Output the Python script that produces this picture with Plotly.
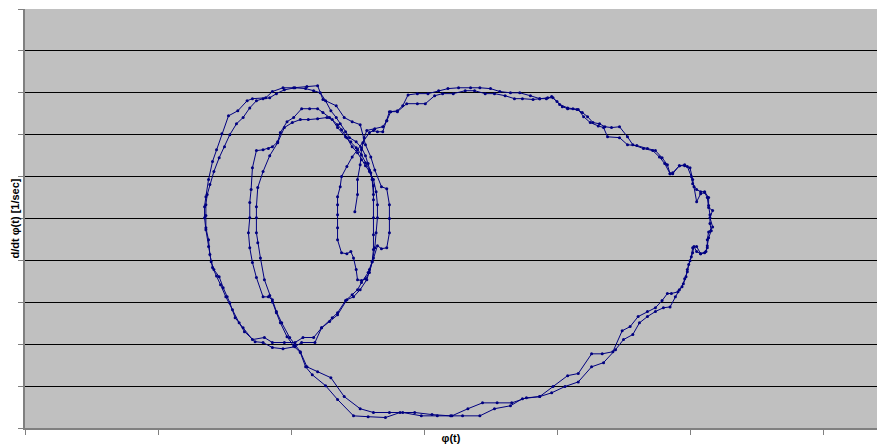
import plotly.graph_objects as go

# ---- data: phase trajectory, phi(t) and d/dt phi(t), in path order ----
phi_start = [2.48, 2.50, 2.50, 2.52, 2.53, 2.55, 2.57, 2.63, 2.69, 2.72, 2.75, 2.80, 2.84, 2.88]
dphi_start = [0.16, 0.57, 0.93, 1.28, 1.64, 1.93, 2.10, 2.14, 2.19, 2.33, 2.55, 2.57, 2.69, 2.95]

phi_big1 = [2.95, 3.03, 3.11, 3.18, 3.26, 3.35, 3.42, 3.50, 3.57, 3.65, 3.72, 3.80, 3.87, 3.92, 3.96,
            4.00, 4.04, 4.08, 4.15, 4.19, 4.23, 4.27, 4.32, 4.36, 4.41, 4.47, 4.53, 4.57, 4.65, 4.72,
            4.77, 4.81, 4.85, 4.87, 4.92, 4.96, 5.00, 5.02, 5.03, 5.05, 5.08, 5.11, 5.13, 5.14, 5.17,
            5.15, 5.17, 5.14, 5.13, 5.13, 5.11, 5.08, 5.05, 5.02, 5.01, 4.99, 4.98, 4.96, 4.94, 4.91,
            4.86, 4.83, 4.79, 4.74, 4.68, 4.61, 4.55, 4.49, 4.42, 4.34, 4.26, 4.16, 4.08, 3.97, 3.87,
            3.77, 3.66, 3.55, 3.44, 3.33, 3.21, 3.10, 2.98, 2.84, 2.74, 2.62, 2.52, 2.40, 2.30, 2.20,
            2.12, 2.07, 2.03]
dphi_big1 = [2.98, 2.98, 3.05, 3.10, 3.12, 3.12, 3.12, 3.10, 3.03, 3.00, 3.00, 2.93, 2.86, 2.86, 2.91,
             2.79, 2.67, 2.62, 2.60, 2.53, 2.43, 2.29, 2.26, 2.19, 2.17, 2.19, 1.95, 1.76, 1.67, 1.62,
             1.47, 1.31, 1.07, 1.09, 1.26, 1.26, 1.21, 0.93, 0.76, 0.40, 0.59, 0.62, 0.50, 0.26, 0.19,
             0.02, -0.20, -0.32, -0.51, -0.70, -0.82, -0.84, -0.67, -0.70, -0.91, -1.10, -1.27, -1.44, -1.63, -1.75,
             -1.79, -1.79, -1.96, -2.13, -2.22, -2.34, -2.58, -2.68, -3.18, -3.23, -3.23, -3.70, -3.75, -4.01, -4.25,
             -4.28, -4.40, -4.40, -4.40, -4.54, -4.71, -4.71, -4.71, -4.63, -4.63, -4.63, -4.54, -4.25, -3.80, -3.66,
             -3.54, -3.18, -3.01]

phi_mid_a = [1.99, 1.93, 1.89, 1.86, 1.83, 1.79, 1.74, 1.71, 1.69, 1.68, 1.69, 1.69, 1.70, 1.71, 1.74,
             1.79, 1.83, 1.86, 1.90, 1.92, 1.97, 2.02, 2.08, 2.14, 2.20, 2.24, 2.29, 2.35, 2.38, 2.42,
             2.46, 2.50, 2.53, 2.56, 2.59, 2.62, 2.64, 2.65, 2.65, 2.64, 2.63, 2.61]
dphi_mid_a = [-2.84, -2.49, -2.22, -1.94, -1.87, -1.87, -1.41, -1.05, -0.70, -0.34, 0.02, 0.38, 0.69, 1.21, 1.62,
              1.64, 1.67, 1.71, 1.83, 2.05, 2.31, 2.41, 2.62, 2.62, 2.62, 2.53, 2.41, 2.24, 2.12, 1.93,
              1.71, 1.57, 1.40, 1.26, 1.12, 0.93, 0.64, 0.33, 0.02, -0.34, -0.70, -1.03]

phi_low_a = [2.58, 2.53, 2.50, 2.46, 2.41, 2.35, 2.31, 2.23, 2.17, 2.09, 2.03, 1.95, 1.86, 1.80, 1.71,
             1.64, 1.58, 1.54, 1.52, 1.49, 1.46, 1.42, 1.40, 1.38, 1.36, 1.35]
dphi_low_a = [-1.29, -1.53, -1.70, -1.82, -1.96, -2.25, -2.37, -2.61, -2.84, -2.84, -2.96, -2.96, -2.96, -2.84, -2.89,
              -2.61, -2.37, -2.01, -1.87, -1.65, -1.39, -1.22, -1.03, -0.67, -0.27, 0.02]

phi_out_a = [1.35, 1.36, 1.38, 1.41, 1.44, 1.48, 1.53, 1.60, 1.67, 1.71, 1.81, 1.86, 1.94, 2.02, 2.12,
             2.20, 2.24, 2.34, 2.40, 2.46, 2.52, 2.56, 2.60, 2.63, 2.68, 2.72, 2.74, 2.74, 2.74, 2.72,
             2.68, 2.65]
dphi_out_a = [0.28, 0.52, 0.93, 1.36, 1.64, 2.02, 2.45, 2.57, 2.81, 2.86, 2.88, 3.03, 3.12, 3.12, 3.15,
              3.17, 2.84, 2.69, 2.41, 2.31, 2.24, 1.76, 1.47, 1.16, 0.76, 0.71, 0.33, 0.00, -0.34, -0.70,
              -0.72, -0.65]

phi_low_b = [2.62, 2.59, 2.57, 2.52, 2.47, 2.42, 2.35, 2.29, 2.23, 2.18, 2.08, 2.03, 1.94, 1.86, 1.79,
             1.73, 1.65, 1.61, 1.56, 1.51, 1.47, 1.44, 1.41, 1.39, 1.38, 1.36, 1.36]
dphi_low_b = [-0.94, -1.22, -1.46, -1.70, -1.87, -1.94, -2.30, -2.46, -2.61, -2.96, -2.96, -3.06, -3.11, -3.08, -2.96,
              -2.94, -2.70, -2.49, -2.18, -1.87, -1.58, -1.37, -1.17, -0.86, -0.51, -0.22, 0.07]

phi_out_b = [1.36, 1.37, 1.39, 1.42, 1.46, 1.50, 1.54, 1.59, 1.64, 1.69, 1.74, 1.79, 1.84, 1.89, 1.95,
             2.03, 2.11, 2.17, 2.22, 2.26, 2.30, 2.34, 2.37, 2.41, 2.44, 2.49, 2.53, 2.56, 2.58, 2.60,
             2.62, 2.62, 2.62, 2.62, 2.62, 2.61, 2.59, 2.56]
dphi_out_b = [0.33, 0.57, 0.81, 1.12, 1.45, 1.71, 2.00, 2.26, 2.41, 2.64, 2.81, 2.86, 2.88, 2.98, 3.07,
              3.12, 3.10, 3.05, 3.00, 2.81, 2.57, 2.41, 2.26, 2.07, 1.93, 1.83, 1.69, 1.50, 1.31, 1.09,
              0.78, 0.45, 0.02, -0.39, -0.74, -1.03, -1.29, -1.44]

phi_inner = [2.53, 2.50, 2.49, 2.47, 2.45, 2.42, 2.38, 2.35, 2.35, 2.35, 2.35, 2.35, 2.37, 2.38, 2.42,
             2.46, 2.50, 2.54, 2.59, 2.62, 2.65, 2.69, 2.72, 2.74, 2.80]
dphi_inner = [-1.48, -1.46, -1.22, -0.94, -0.79, -0.84, -0.82, -0.51, -0.22, 0.09, 0.33, 0.52, 0.76, 1.00, 1.24,
              1.47, 1.64, 1.81, 2.05, 2.10, 2.07, 2.07, 2.33, 2.55, 2.55]

phi_big2 = [2.87, 2.95, 3.01, 3.08, 3.14, 3.22, 3.31, 3.38, 3.46, 3.53, 3.61, 3.68, 3.74, 3.82, 3.87,
            3.93, 3.97, 4.02, 4.08, 4.12, 4.16, 4.20, 4.25, 4.31, 4.35, 4.38, 4.47, 4.53, 4.60, 4.68,
            4.74, 4.79, 4.83, 4.85, 4.87, 4.92, 4.96, 4.98, 5.01, 5.02, 5.05, 5.08, 5.11, 5.14, 5.14,
            5.15, 5.15, 5.16, 5.14, 5.13, 5.12, 5.08, 5.05, 5.03, 5.02, 5.00, 4.98, 4.97, 4.95, 4.92,
            4.89, 4.85, 4.80, 4.74, 4.68, 4.62, 4.57, 4.50, 4.44, 4.35, 4.26, 4.16, 4.06, 3.96, 3.87,
            3.74, 3.65, 3.53, 3.42, 3.29, 3.20, 3.06, 2.93, 2.82, 2.71, 2.58, 2.47, 2.35, 2.26, 2.16,
            2.11, 2.07, 2.02]
dphi_big2 = [2.74, 2.74, 2.74, 2.93, 2.98, 2.98, 3.05, 3.05, 2.98, 2.98, 2.93, 2.86, 2.86, 2.84, 2.86,
             2.88, 2.88, 2.72, 2.64, 2.62, 2.60, 2.43, 2.29, 2.21, 2.17, 1.95, 1.93, 1.76, 1.74, 1.67,
             1.62, 1.45, 1.28, 1.07, 1.07, 1.26, 1.28, 1.24, 1.00, 0.83, 0.69, 0.64, 0.64, 0.50, 0.31,
             0.09, -0.12, -0.29, -0.46, -0.65, -0.79, -0.84, -0.79, -0.67, -0.82, -1.01, -1.22, -1.39, -1.56, -1.70,
             -1.87, -2.11, -2.13, -2.22, -2.34, -2.49, -2.77, -2.89, -3.13, -3.44, -3.54, -3.90, -4.01, -4.16, -4.25,
             -4.30, -4.47, -4.54, -4.71, -4.71, -4.71, -4.68, -4.63, -4.63, -4.75, -4.73, -4.71, -4.32, -3.99, -3.73,
             -3.54, -3.20, -3.04]

phi_mid_b = [1.97, 1.92, 1.89, 1.86, 1.84, 1.80, 1.77, 1.75, 1.74, 1.74, 1.74, 1.75, 1.79, 1.84, 1.90,
             1.95, 2.01, 2.07, 2.13, 2.20, 2.27, 2.31, 2.35, 2.41, 2.45, 2.49, 2.53, 2.56, 2.59, 2.61,
             2.62]
dphi_mid_b = [-2.82, -2.49, -2.25, -1.99, -1.84, -1.46, -0.94, -0.58, -0.34, 0.02, 0.28, 0.74, 1.12, 1.50, 1.81,
              2.17, 2.29, 2.36, 2.36, 2.38, 2.41, 2.36, 2.17, 1.95, 1.83, 1.69, 1.52, 1.33, 1.16, 0.93,
              0.57]

segments = [
    (phi_start, dphi_start), (phi_big1, dphi_big1), (phi_mid_a, dphi_mid_a),
    (phi_low_a, dphi_low_a), (phi_out_a, dphi_out_a), (phi_low_b, dphi_low_b),
    (phi_out_b, dphi_out_b), (phi_inner, dphi_inner), (phi_big2, dphi_big2),
    (phi_mid_b, dphi_mid_b),
]
phi = [v for s in segments for v in s[0]]
dphi = [v for s in segments for v in s[1]]

x_ticks = [0, 1, 2, 3, 4, 5, 6]
y_ticks = [-5, -4, -3, -2, -1, 0, 1, 2, 3, 4]

NAVY = "#000080"
FONT = "Liberation Sans, Arial, sans-serif"

fig = go.Figure()
fig.add_trace(go.Scatter(
    x=phi, y=dphi, mode="lines+markers",
    line=dict(color=NAVY, width=1),
    marker=dict(color=NAVY, size=3, symbol="circle"),
    showlegend=False, hoverinfo="skip",
))

fig.update_layout(
    width=877, height=447,
    margin=dict(l=25, r=0, t=9, b=19),
    paper_bgcolor="white", plot_bgcolor="#C0C0C0",
    font=dict(family=FONT, size=11, color="black"),
    xaxis=dict(
        range=[0, 852 / 133], tickvals=x_ticks, showticklabels=False,
        ticks="outside", ticklen=5, tickcolor="#808080", tickwidth=1,
        showgrid=False, zeroline=False,
        showline=True, linecolor="#808080", linewidth=2,
        title=dict(text="<b>φ(t)</b>", font=dict(size=11, family=FONT), standoff=0),
        automargin=False,
    ),
    yaxis=dict(
        range=[-5, 5], tickvals=y_ticks, showticklabels=False,
        ticks="outside", ticklen=5, tickcolor="#808080", tickwidth=1,
        showgrid=True, gridcolor="black", gridwidth=1, zeroline=False,
        showline=True, linecolor="#808080", linewidth=2,
        minor=dict(tickvals=[5], ticks="outside", ticklen=5, tickcolor="#808080", showgrid=False),
        automargin=False,
    ),
    annotations=[dict(
        text="<b>d/dt φ(t) [1/sec]</b>", textangle=-90, showarrow=False,
        xref="paper", yref="paper", x=-11 / 852, y=0.5,
        xanchor="center", yanchor="middle", font=dict(size=11, family=FONT),
    )],
)

fig.write_html("out.html")
